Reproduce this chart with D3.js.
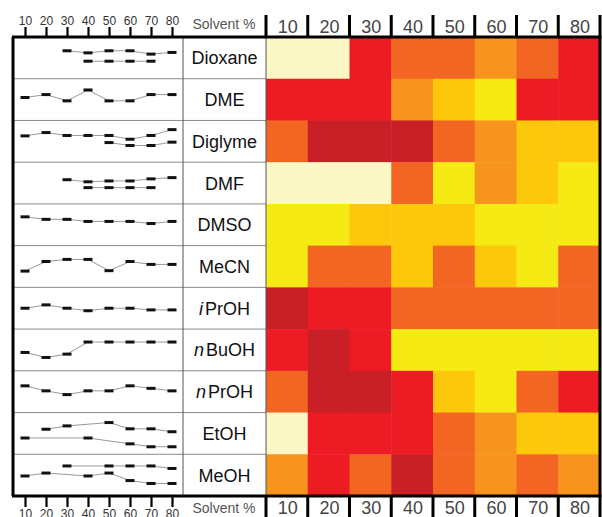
<!DOCTYPE html>
<html>
<head>
<meta charset="utf-8">
<script src="https://cdn.jsdelivr.net/npm/d3@7"></script>
<style>
  body { margin: 0; background: #fff; }
  svg { display: block; font-family: 'Liberation Sans', Arial, sans-serif; }
</style>
</head>
<body>
<div id="chart"></div>
<script>
// solvents (rows) and solvent % (columns)
const solvents = ['Dioxane', 'DME', 'Diglyme', 'DMF', 'DMSO', 'MeCN', 'iPrOH', 'nBuOH', 'nPrOH', 'EtOH', 'MeOH']
const italicPrefix = ['', '', '', '', '', '', 'i', 'n', 'n', '', '']
const percents = [10, 20, 30, 40, 50, 60, 70, 80]

// heat level per cell: 0 cream .. 6 dark red
const levels = [
  [0, 0, 5, 4, 4, 3, 4, 5],
  [5, 5, 5, 3, 2, 1, 5, 5],
  [4, 6, 6, 6, 4, 3, 2, 2],
  [0, 0, 0, 4, 1, 3, 2, 1],
  [1, 1, 2, 2, 2, 1, 1, 1],
  [1, 4, 4, 2, 4, 2, 1, 4],
  [6, 5, 5, 4, 4, 4, 4, 4],
  [5, 6, 5, 1, 1, 1, 1, 1],
  [4, 6, 6, 5, 2, 1, 4, 5],
  [0, 5, 5, 5, 4, 3, 2, 2],
  [3, 5, 4, 6, 4, 3, 4, 3]
]
const levelColors = ['#FCF8C6', '#F5EA14', '#FDC80B', '#F7941E', '#F26522', '#ED1C24', '#C91F26']

// trend series in the left panel (relative score, 0-100 within a row)
const upperTrend = [
  [null, null, 67, 62, 67, 67, 59, 63],
  [55, 62, 47, 73, 47, 47, 62, 62],
  [63, 71, 64, 64, 64, 55, 64, 78],
  [null, null, 58, 53, 55, 55, 60, 63],
  [69, 63, 63, 58, 58, 58, 53, 58],
  [39, 62, 67, 67, 40, 62, 55, 55],
  [50, 58, 50, 44, 50, 50, 46, 46],
  [44, 32, 40, 69, 69, 69, 69, 69],
  [64, 52, 43, 52, 52, 64, 58, 52],
  [null, 60, 68, null, 76, 61, 61, 54],
  [null, null, 72, null, 72, 72, 72, 66]
]
const lowerTrend = [
  [null, null, null, 42, 42, 42, 42, null],
  [],
  [null, null, null, null, 47, 40, 40, 48],
  [null, null, null, 39, 39, 39, 39, null],
  [], [], [], [], [],
  [39, null, null, 39, null, 25, 18, 18],
  [48, 55, null, 48, 55, 37, 30, 30]
]

const width = 602, height = 517
const topY = 37, bottomY = 496
const panelLeft = 13, panelRight = 183, heatLeft = 266, heatRight = 600

const svg = d3.select('#chart').append('svg')
  .attr('width', width)
  .attr('height', height)

const y = d3.scaleBand().domain(solvents).range([topY, bottomY])
const col = d3.scaleBand().domain(percents).range([heatLeft, heatRight])
const sx = d3.scaleLinear().domain([10, 80]).range([25, 172])
const color = d3.scaleOrdinal().domain(d3.range(levelColors.length)).range(levelColors)

// heatmap cells
const cells = []
solvents.forEach((s, i) => percents.forEach((p, j) => cells.push({ s, p, v: levels[i][j] })))
svg.append('g').selectAll('rect')
  .data(cells)
  .enter()
  .append('rect')
  .attr('x', d => col(d.p))
  .attr('y', d => y(d.s))
  .attr('width', col.bandwidth() + 0.5)
  .attr('height', y.bandwidth() + 0.5)
  .attr('fill', d => color(d.v))

// row separators in left panel + label column
svg.append('g').selectAll('line')
  .data(solvents.slice(1))
  .enter()
  .append('line')
  .attr('x1', panelLeft).attr('x2', heatLeft)
  .attr('y1', d => y(d)).attr('y2', d => y(d))
  .attr('stroke', '#8a8a8a').attr('stroke-width', 1)

svg.append('line')
  .attr('x1', panelRight).attr('x2', panelRight)
  .attr('y1', topY).attr('y2', bottomY)
  .attr('stroke', '#555').attr('stroke-width', 1)
svg.append('line')
  .attr('x1', heatLeft).attr('x2', heatLeft)
  .attr('y1', topY).attr('y2', bottomY)
  .attr('stroke', '#555').attr('stroke-width', 1)

// solvent labels
let labels = svg.append('g').selectAll('text')
  .data(solvents)
  .enter()
  .append('text')
  .attr('x', (panelRight + heatLeft) / 2)
  .attr('y', d => y(d) + y.bandwidth() / 2)
  .attr('dy', '0.36em')
  .attr('text-anchor', 'middle')
  .attr('font-size', 18)
  .attr('fill', '#111')
labels.each(function(d, i) {
  let t = d3.select(this)
  let pre = italicPrefix[i]
  if (pre) {
    t.append('tspan').attr('font-style', 'italic').text(pre)
    t.append('tspan').attr('dx', 2).text(d.slice(pre.length))
  } else {
    t.text(d)
  }
})

// trend lines
const line = d3.line().x(d => sx(d.p)).y(d => d.y)
function drawTrend(series) {
  series.forEach((vals, i) => {
    let ys = d3.scaleLinear().domain([0, 100]).range([y(solvents[i]) + y.bandwidth(), y(solvents[i])])
    let pts = []
    vals.forEach((v, j) => { if (v != null) pts.push({ p: percents[j], y: ys(v) }) })
    if (!pts.length) return
    let g = svg.append('g')
    g.append('path')
      .attr('d', line(pts))
      .attr('fill', 'none')
      .attr('stroke', '#999')
      .attr('stroke-width', 1)
    g.selectAll('rect')
      .data(pts)
      .enter()
      .append('rect')
      .attr('x', d => sx(d.p) - 4.5)
      .attr('y', d => d.y - 1.5)
      .attr('width', 9)
      .attr('height', 3)
      .attr('fill', '#111')
  })
}
drawTrend(upperTrend)
drawTrend(lowerTrend)

// frame
svg.append('line').attr('x1', panelLeft - 1).attr('x2', heatRight + 1.5).attr('y1', topY).attr('y2', topY)
  .attr('stroke', '#000').attr('stroke-width', 3)
svg.append('line').attr('x1', panelLeft - 1).attr('x2', heatRight + 1.5).attr('y1', bottomY).attr('y2', bottomY)
  .attr('stroke', '#000').attr('stroke-width', 3)
svg.append('line').attr('x1', panelLeft).attr('x2', panelLeft).attr('y1', topY).attr('y2', bottomY)
  .attr('stroke', '#000').attr('stroke-width', 3)

// column ticks (heatmap), top and bottom
const bounds = percents.map(p => col(p)).concat([heatRight])
svg.append('g').selectAll('line')
  .data(bounds)
  .enter()
  .append('line')
  .attr('x1', d => d).attr('x2', d => d)
  .attr('y1', 15).attr('y2', topY)
  .attr('stroke', '#000').attr('stroke-width', 3)
svg.append('g').selectAll('line')
  .data(bounds)
  .enter()
  .append('line')
  .attr('x1', d => d).attr('x2', d => d)
  .attr('y1', bottomY).attr('y2', height)
  .attr('stroke', '#000').attr('stroke-width', 3)
svg.append('line').attr('x1', heatRight).attr('x2', heatRight).attr('y1', topY).attr('y2', bottomY)
  .attr('stroke', '#000').attr('stroke-width', 3)

// column headers
svg.append('g').selectAll('text')
  .data(percents)
  .enter()
  .append('text')
  .attr('x', d => col(d) + col.bandwidth() / 2 + 1)
  .attr('y', 33)
  .attr('text-anchor', 'middle')
  .attr('font-size', 18)
  .attr('fill', '#444')
  .text(d => d)
svg.append('g').selectAll('text')
  .data(percents)
  .enter()
  .append('text')
  .attr('x', d => col(d) + col.bandwidth() / 2 + 1)
  .attr('y', 514)
  .attr('text-anchor', 'middle')
  .attr('font-size', 18)
  .attr('fill', '#444')
  .text(d => d)

// left panel axes
const axisTop = d3.axisTop(sx).tickValues(percents).tickSize(10).tickPadding(2)
const axisBottom = d3.axisBottom(sx).tickValues(percents).tickSize(11).tickPadding(2)
let at = svg.append('g').attr('transform', `translate(0,${topY})`).call(axisTop)
let ab = svg.append('g').attr('transform', `translate(0,${bottomY})`).call(axisBottom)
;[at, ab].forEach(g => {
  g.select('.domain').remove()
  g.selectAll('.tick line').attr('stroke', '#000').attr('stroke-width', 2.2)
  g.selectAll('.tick text').attr('font-size', 12).attr('fill', '#333')
    .attr('font-family', "'Liberation Sans', Arial, sans-serif")
})

svg.append('text').attr('x', 224).attr('y', 29).attr('text-anchor', 'middle')
  .attr('font-size', 14).attr('fill', '#555').text('Solvent %')
svg.append('text').attr('x', 224).attr('y', 513).attr('text-anchor', 'middle')
  .attr('font-size', 14).attr('fill', '#555').text('Solvent %')
</script>
</body>
</html>
